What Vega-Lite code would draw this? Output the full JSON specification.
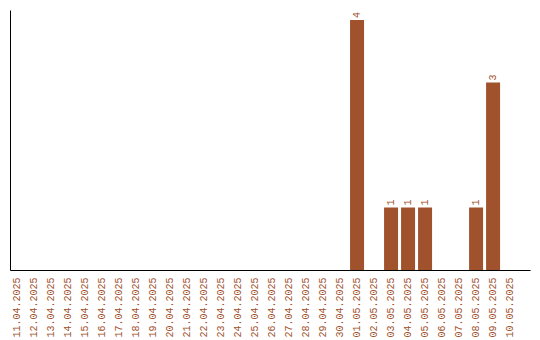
{
  "$schema": "https://vega.github.io/schema/vega-lite/v6.json",
  "width": 520,
  "height": 260,
  "autosize": {"type": "none"},
  "padding": {"left": 10, "top": 10, "right": 10, "bottom": 70},
  "background": "white",
  "config": {"view": {"stroke": null}},
  "data": {"values": [
    {"date": "11.04.2025", "count": 0},
    {"date": "12.04.2025", "count": 0},
    {"date": "13.04.2025", "count": 0},
    {"date": "14.04.2025", "count": 0},
    {"date": "15.04.2025", "count": 0},
    {"date": "16.04.2025", "count": 0},
    {"date": "17.04.2025", "count": 0},
    {"date": "18.04.2025", "count": 0},
    {"date": "19.04.2025", "count": 0},
    {"date": "20.04.2025", "count": 0},
    {"date": "21.04.2025", "count": 0},
    {"date": "22.04.2025", "count": 0},
    {"date": "23.04.2025", "count": 0},
    {"date": "24.04.2025", "count": 0},
    {"date": "25.04.2025", "count": 0},
    {"date": "26.04.2025", "count": 0},
    {"date": "27.04.2025", "count": 0},
    {"date": "28.04.2025", "count": 0},
    {"date": "29.04.2025", "count": 0},
    {"date": "30.04.2025", "count": 0},
    {"date": "01.05.2025", "count": 4},
    {"date": "02.05.2025", "count": 0},
    {"date": "03.05.2025", "count": 1},
    {"date": "04.05.2025", "count": 1},
    {"date": "05.05.2025", "count": 1},
    {"date": "06.05.2025", "count": 0},
    {"date": "07.05.2025", "count": 0},
    {"date": "08.05.2025", "count": 1},
    {"date": "09.05.2025", "count": 3},
    {"date": "10.05.2025", "count": 0}
  ]},
  "encoding": {
    "x": {
      "field": "date", "type": "ordinal", "sort": null,
      "scale": {"paddingInner": 0.17647, "paddingOuter": 0.38, "align": 0},
      "axis": {
        "title": null, "labelAngle": 270, "labelAlign": "right", "labelBaseline": "middle",
        "labelFont": "Liberation Mono", "labelFontSize": 10, "labelColor": "#A0522D",
        "ticks": false, "labelPadding": 7, "domainColor": "black", "domainWidth": 1, "grid": false
      }
    },
    "y": {
      "field": "count", "type": "quantitative",
      "scale": {"domain": [0, 4.16], "nice": false, "zero": true},
      "axis": {"title": null, "labels": false, "ticks": false, "grid": false, "domainColor": "black", "domainWidth": 1}
    }
  },
  "layer": [
    {"mark": {"type": "bar", "color": "#A0522D"}},
    {
      "transform": [{"filter": "datum.count > 0"}],
      "mark": {"type": "text", "angle": 270, "align": "left", "baseline": "middle", "dx": 2, "font": "Liberation Mono", "fontSize": 10, "color": "#A0522D"},
      "encoding": {"text": {"field": "count", "type": "quantitative"}}
    }
  ]
}
